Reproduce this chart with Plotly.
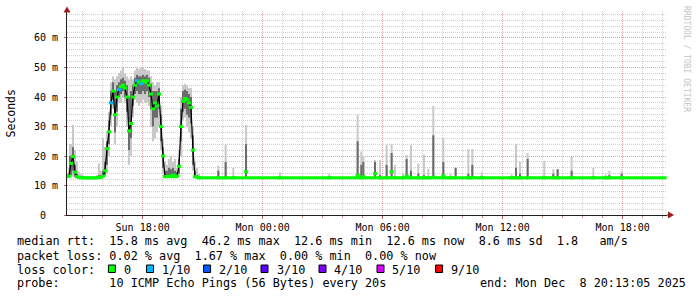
import plotly.graph_objects as go
import pandas as pd

# ---------------- data ----------------
x_start = "2025-12-07 14:13:05"
x_end = "2025-12-08 20:13:05"

# active period, one sample every 6 minutes starting Sun 14:13
active_start = "2025-12-07 14:13"
active_median = [13.0, 13.2, 17.5, 19.8, 14.5, 13.0, 12.7, 12.6, 12.6, 12.6,
                 12.6, 12.6, 12.6, 12.6, 12.6, 12.6, 12.7, 12.8, 13.2, 15.0,
                 22.5, 28.2, 38.0, 42.0, 34.0, 40.0, 42.5, 43.5, 44.0, 43.0,
                 40.0, 28.5, 31.0, 40.0, 44.0, 45.5, 45.0, 44.5, 45.5, 45.0,
                 45.5, 44.0, 41.0, 36.0, 38.0, 37.0, 41.0, 30.0, 20.0, 13.0,
                 13.0, 13.2, 13.0, 13.5, 13.0, 13.2, 16.5, 30.0, 38.5, 39.5,
                 39.0, 38.0, 36.5, 22.0, 13.0, 12.8, 12.6, 12.6]
active_lo = [12.5, 12.5, 12.8, 13.0, 12.6, 12.5, 12.5, 12.5, 12.5, 12.5,
             12.5, 12.5, 12.5, 12.5, 12.5, 12.5, 12.5, 12.5, 12.5, 13.0,
             14.0, 20.0, 30.0, 36.0, 24.0, 30.0, 38.0, 38.0, 40.0, 38.0,
             30.0, 17.0, 20.0, 33.0, 39.0, 38.0, 37.0, 38.0, 39.0, 38.0,
             38.0, 37.0, 30.0, 25.0, 26.0, 28.0, 30.0, 22.0, 14.0, 12.5,
             12.5, 12.5, 12.5, 12.5, 12.5, 12.5, 13.0, 20.0, 32.0, 33.0,
             30.0, 28.0, 26.0, 15.0, 12.5, 12.5, 12.5, 12.5]
active_hi = [14.5, 16.0, 24.0, 30.5, 22.0, 18.0, 14.5, 14.0, 13.5, 13.0,
             13.0, 13.0, 13.0, 13.0, 13.0, 13.5, 17.5, 15.0, 26.0, 23.0,
             28.0, 35.0, 45.0, 47.0, 46.0, 47.0, 48.0, 49.0, 50.0, 48.0,
             47.0, 46.0, 47.0, 46.0, 49.0, 50.0, 49.5, 50.0, 50.0, 49.5,
             49.0, 49.0, 47.0, 45.0, 44.0, 45.0, 45.0, 37.0, 26.0, 18.0,
             17.0, 19.0, 20.0, 18.0, 19.0, 16.0, 22.0, 40.0, 44.0, 44.5,
             44.0, 43.0, 43.0, 30.0, 18.0, 16.0, 14.0, 13.0]
active_dark_lo = [12.8, 12.8, 13.5, 15.0, 13.0, 12.8, 12.6, 12.6, 12.6, 12.6,
                  12.6, 12.6, 12.6, 12.6, 12.6, 12.6, 12.6, 12.6, 12.8, 13.5,
                  17.0, 24.0, 34.0, 39.0, 28.0, 35.0, 40.0, 41.0, 42.0, 40.0,
                  35.0, 22.0, 26.0, 37.0, 41.0, 42.0, 41.0, 41.0, 42.0, 41.0,
                  42.0, 40.0, 36.0, 30.0, 33.0, 33.0, 36.0, 25.0, 16.0, 12.7,
                  12.7, 12.8, 12.7, 12.8, 12.7, 12.7, 14.0, 25.0, 35.0, 36.0,
                  34.0, 33.0, 31.0, 17.0, 12.7, 12.6, 12.6, 12.6]
active_dark_hi = [13.5, 14.0, 20.0, 23.0, 17.0, 14.0, 13.2, 13.0, 12.9, 12.8,
                  12.8, 12.8, 12.8, 12.8, 12.8, 12.9, 13.5, 13.5, 15.0, 18.0,
                  25.0, 32.0, 42.0, 45.0, 42.0, 44.0, 45.0, 46.0, 46.5, 45.5,
                  44.0, 40.0, 42.0, 44.0, 46.5, 47.5, 47.0, 47.0, 47.5, 47.0,
                  47.5, 46.5, 44.5, 42.0, 42.0, 42.0, 43.0, 34.0, 23.0, 15.0,
                  15.0, 16.0, 15.5, 16.0, 15.0, 14.5, 19.0, 36.0, 42.0, 42.5,
                  42.0, 41.0, 40.0, 27.0, 15.0, 13.5, 13.0, 12.8]
active_loss = [0, 0, 0, 0, 0, 0, 0, 0, 0, 0,
               0, 0, 0, 0, 0, 0, 0, 0, 0, 0,
               0, 0, 1, 0, 0, 0, 1, 0, 0, 0,
               0, 0, 0, 0, 0, 1, 0, 1, 0, 0,
               0, 0, 0, 0, 0, 0, 0, 0, 0, 0,
               0, 0, 0, 0, 0, 0, 0, 0, 0, 0,
               0, 0, 0, 0, 0, 0, 0, 0]

# quiet period: flat median
quiet_time = ["2025-12-07 21:01", "2025-12-08 20:12"]
quiet_median = [12.6, 12.6]

# isolated smoke spikes during the quiet period
spike_time = ["2025-12-07 21:47", "2025-12-07 22:09", "2025-12-07 22:32", "2025-12-07 23:10",
              "2025-12-08 00:52", "2025-12-08 03:20", "2025-12-08 04:45", "2025-12-08 04:56",
              "2025-12-08 05:02", "2025-12-08 05:37", "2025-12-08 05:52", "2025-12-08 06:12",
              "2025-12-08 06:27", "2025-12-08 06:37", "2025-12-08 07:01", "2025-12-08 07:12",
              "2025-12-08 07:25", "2025-12-08 07:47", "2025-12-08 08:04", "2025-12-08 08:17",
              "2025-12-08 08:32", "2025-12-08 09:02", "2025-12-08 09:24", "2025-12-08 09:39",
              "2025-12-08 10:17", "2025-12-08 10:29", "2025-12-08 10:57", "2025-12-08 12:27",
              "2025-12-08 12:40", "2025-12-08 12:52", "2025-12-08 13:15", "2025-12-08 14:05",
              "2025-12-08 14:32", "2025-12-08 14:45", "2025-12-08 15:27", "2025-12-08 16:32",
              "2025-12-08 17:09", "2025-12-08 17:20", "2025-12-08 17:57"]
spike_lo = [12.5, 12.5, 12.5, 12.5, 12.5, 12.5, 12.5, 12.5, 12.5, 12.5,
            12.5, 12.5, 12.5, 12.5, 12.5, 12.5, 12.5, 12.5, 12.5, 12.5,
            12.5, 12.5, 12.5, 12.5, 12.5, 12.5, 12.5, 12.5, 12.5, 12.5,
            12.5, 12.5, 12.5, 12.5, 12.5, 12.5, 12.5, 12.5, 12.5]
spike_hi = [16.7, 24.0, 16.0, 30.5, 14.5, 14.0, 34.0, 21.5, 20.0, 18.6,
            18.6, 23.7, 24.0, 17.0, 14.0, 20.3, 23.7, 17.5, 20.5, 15.7,
            37.0, 26.0, 14.0, 16.0, 22.3, 22.3, 14.5, 13.8, 24.0, 18.0,
            21.0, 18.3, 15.5, 15.5, 19.8, 16.0, 13.8, 15.0, 15.0]
spike_dark_hi = [15.0, 18.0, 13.0, 24.0, 13.0, 13.0, 25.0, 17.0, 18.0, 18.0,
                 13.5, 17.0, 21.0, 13.0, 13.0, 19.0, 15.0, 14.0, 13.5, 13.0,
                 27.0, 18.0, 13.0, 16.0, 14.0, 17.0, 13.0, 13.0, 16.0, 14.0,
                 19.0, 13.0, 14.0, 15.5, 15.0, 13.0, 13.0, 13.5, 14.0]
spike_median = [12.6, 12.6, 12.6, 14.7, 12.6, 12.6, 13.5, 12.6, 13.0, 14.0,
                12.6, 12.6, 14.7, 12.6, 12.6, 13.2, 12.6, 12.6, 12.6, 12.6,
                12.8, 13.2, 12.6, 12.6, 12.6, 12.6, 12.6, 12.6, 12.6, 12.6,
                12.6, 12.6, 12.6, 12.6, 12.6, 12.6, 12.6, 12.6, 12.6]

y_tickvals = [0, 10, 20, 30, 40, 50, 60]
y_ticktext = ["0\u00a0\u00a0", "10 m", "20 m", "30 m", "40 m", "50 m", "60 m"]

loss_labels = ["0", "1/10", "2/10", "3/10", "4/10", "5/10", "9/10"]
loss_colors = ["#00ff00", "#00b8ff", "#0059ff", "#5e00ff", "#7e00ff", "#dd00ff", "#ff0000"]

rtt_names = ["avg", "max", "min", "now", "sd"]
rtt_values = [15.8, 46.2, 12.6, 12.6, 8.6]
am_per_s = 1.8
loss_names = ["avg", "max", "min", "now"]
loss_values = [0.02, 1.67, 0.00, 0.00]
probe_text = "10 ICMP Echo Pings (56 Bytes) every 20s"
end_text = "end: Mon Dec  8 20:13:05 2025"

# ---------------- figure ----------------
W, H = 697, 297
L, R, T, B = 67, 30, 11, 82
PW, PH = W - L - R, H - T - B
Y_MAX = 69.15

def px(xp):
    return (xp - L) / PW

def py(yp):
    return (H - B - yp) / PH

MONO = "DejaVu Sans Mono"
step_ms = 6 * 60 * 1000
active_time = pd.date_range(active_start, periods=len(active_median), freq="6min")
spike_t = pd.to_datetime(spike_time)

LIGHT = "#c8c8c8"
DARK = "#6a6a6a"

fig = go.Figure()
fig.add_trace(go.Bar(x=active_time, y=[h - l for h, l in zip(active_hi, active_lo)],
                     base=active_lo, width=step_ms, marker=dict(color=LIGHT, line=dict(width=0))))
fig.add_trace(go.Bar(x=spike_t, y=[h - l for h, l in zip(spike_hi, spike_lo)],
                     base=spike_lo, width=step_ms, marker=dict(color=LIGHT, line=dict(width=0))))
fig.add_trace(go.Bar(x=active_time, y=[h - l for h, l in zip(active_dark_hi, active_dark_lo)],
                     base=active_dark_lo, width=step_ms, marker=dict(color=DARK, line=dict(width=0))))
fig.add_trace(go.Bar(x=spike_t, y=[h - l for h, l in zip(spike_dark_hi, spike_lo)],
                     base=spike_lo, width=step_ms, marker=dict(color=DARK, line=dict(width=0))))
fig.add_trace(go.Scatter(x=pd.to_datetime(quiet_time), y=quiet_median, mode="lines",
                         line=dict(color=loss_colors[0], width=3)))
fig.add_trace(go.Scatter(x=active_time, y=active_median, mode="lines",
                         line=dict(color="#000000", width=1.2)))
fig.add_trace(go.Scatter(x=active_time, y=active_median, mode="markers",
                         marker=dict(symbol="line-ew", size=3,
                                     line=dict(color=[loss_colors[k] for k in active_loss], width=3))))
fig.add_trace(go.Scatter(x=spike_t, y=spike_median, mode="markers",
                         marker=dict(symbol="line-ew", size=3,
                                     line=dict(color=loss_colors[0], width=3))))

grid_minor = "#cfcfcf"
grid_major = "#e2a2a2"
fig.update_layout(
    width=W, height=H, margin=dict(l=L, r=R, t=T, b=B),
    paper_bgcolor="white", plot_bgcolor="white",
    showlegend=False, barmode="overlay",
    font=dict(family=MONO, size=10, color="#000000"),
    xaxis=dict(
        type="date", range=[x_start, x_end],
        tick0="2025-12-07 00:00", dtick=6 * 3600 * 1000, tickformat="%a %H:%M",
        showgrid=True, gridcolor=grid_major, griddash="1px,1px", gridwidth=1,
        ticks="outside", ticklen=3, tickcolor="#c06060",
        showline=True, linecolor="#202020", linewidth=1,
        zeroline=False, tickfont=dict(family=MONO, size=10, color="#000000"),
        minor=dict(tick0="2025-12-07 00:00", dtick=3600 * 1000, showgrid=True,
                   gridcolor=grid_minor, griddash="1px,1px", gridwidth=1,
                   ticks="outside", ticklen=2, tickcolor="#d09090"),
    ),
    yaxis=dict(
        range=[0, Y_MAX], tickmode="array", tickvals=y_tickvals, ticktext=y_ticktext,
        showgrid=True, gridcolor=grid_major, griddash="1px,1px", gridwidth=1,
        ticks="outside", ticklen=2, tickcolor="#c06060", ticklabelstandoff=4,
        showline=True, linecolor="#202020", linewidth=1, zeroline=False,
        tickfont=dict(family=MONO, size=10, color="#000000"),
        minor=dict(tickmode="linear", tick0=0, dtick=2, showgrid=True,
                   gridcolor=grid_minor, griddash="1px,1px", gridwidth=1),
    ),
)

# axis extensions and arrows
fig.add_shape(type="line", xref="paper", yref="paper", x0=0, x1=0, y0=1, y1=py(9),
              line=dict(color="#202020", width=1))
fig.add_shape(type="line", xref="paper", yref="paper", x0=1, x1=px(672), y0=0, y1=0,
              line=dict(color="#202020", width=1))
fig.add_shape(type="path", xref="paper", yref="paper",
              path=f"M {px(63.5)} {py(12.5)} L {px(70.5)} {py(12.5)} L {px(67)} {py(6.5)} Z",
              fillcolor="#a01c1c", line=dict(width=0))
fig.add_shape(type="path", xref="paper", yref="paper",
              path=f"M {px(668)} {py(211.5)} L {px(668)} {py(218.5)} L {px(674)} {py(215)} Z",
              fillcolor="#a01c1c", line=dict(width=0))

def nb(s):
    return s.replace(" ", "\u00a0")

def text_at(x, y, s, size=11.8, color="#000000", angle=0, xanchor="left"):
    fig.add_annotation(x=px(x), y=py(y), xref="paper", yref="paper", text=nb(s),
                       showarrow=False, xanchor=xanchor, yanchor="middle", textangle=angle,
                       font=dict(family=MONO, size=size, color=color), borderpad=0)

# y title and watermark
text_at(10.5, 114, "Seconds", size=11.5, angle=-90, xanchor="center")
text_at(687, 59, "RRDTOOL / TOBI OETIKER", size=8, color="#c4c4c4", angle=90, xanchor="center")

rtt_line = "median rtt:  " + "  ".join(f"{v:.1f} ms {n}" for v, n in zip(rtt_values, rtt_names)) \
    + f"  {am_per_s:.1f}   am/s"
loss_line = "packet loss: " + "  ".join(f"{v:.2f} % {n}" for v, n in zip(loss_values, loss_names))
text_at(16, 241, rtt_line)
text_at(16, 255.5, loss_line)
text_at(16, 269.5, "loss color:")
text_at(16, 283, "probe:       " + probe_text)
text_at(478.5, 283, end_text)

box_left = [108.4, 146.5, 203.6, 261.0, 319.0, 377.0, 435.6]
label_left = [123.4, 161.0, 217.8, 275.6, 333.0, 391.0, 450.0]
for bl, ll, lab, col in zip(box_left, label_left, loss_labels, loss_colors):
    fig.add_shape(type="rect", xref="paper", yref="paper",
                  x0=px(bl), x1=px(bl + 7), y0=py(265), y1=py(272.5),
                  fillcolor=col, line=dict(color="#000000", width=1))
    text_at(ll, 269.5, lab)

fig.write_html("out.html")
